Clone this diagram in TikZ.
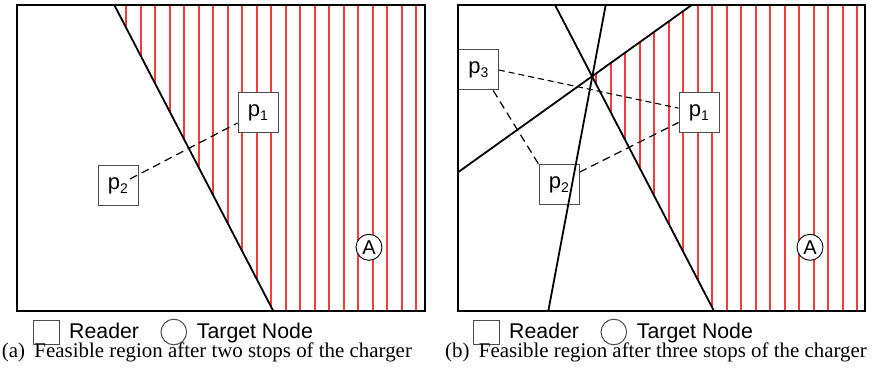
\documentclass[tikz,border=0pt]{standalone}
\usepackage{fontspec}
\setmainfont{Liberation Serif}
\newfontfamily\sff{Liberation Sans}
\newcommand\plab[1]{p\raisebox{-4pt}{\fontsize{14}{14}\selectfont #1}}
\definecolor{stripered}{RGB}{245,60,60}
\begin{document}
\begin{tikzpicture}[x=1pt,y=-1pt,
  frame/.style={line width=1.8pt},
  cut/.style={line width=1.8pt},
  stripe/.style={stripered, line width=2pt},
  reader/.style={draw=black!70, line width=1pt, fill=white, minimum size=40pt, inner sep=0pt, font=\sff\fontsize{22}{22}\selectfont},
  target/.style={draw=black, line width=0.9pt, fill=white, circle, minimum size=26pt, inner sep=0pt, font=\sff\fontsize{20}{20}\selectfont},
  legbox/.style={draw=black!70, line width=1pt, minimum width=26pt, minimum height=24pt, inner sep=0pt},
  legcirc/.style={draw=black!70, line width=1pt, circle, minimum size=25.6pt, inner sep=0pt},
  legtext/.style={anchor=base west, inner sep=0pt, font=\sff\fontsize{21.3}{21.3}\selectfont},
  captext/.style={anchor=base west, inner sep=0pt, font=\fontsize{20.9}{24}\selectfont},
  link/.style={dash pattern=on 8pt off 5pt, line width=1.2pt},
  linkfine/.style={dash pattern=on 6pt off 4pt, line width=1.1pt}]
\useasboundingbox (0,0) rectangle (875,385);

% ---------------- panel (a) ----------------
\coordinate (aTL) at (17,5);
\coordinate (aTR) at (425,5);
\coordinate (aBR) at (425,311);
\coordinate (aBL) at (17,311);
\coordinate (aL1) at (114.3,5);
\coordinate (aL2) at (273.3,311);
\begin{scope}
  \clip (aL1) -- (aTR) -- (aBR) -- (aL2) -- cycle;
  \foreach \k in {0,...,20} {
    \draw[stripe] ({round(126+14.5*\k)},5) -- ++(0,306);
  }
\end{scope}
\node[reader] (ap1) at (258,113) {\plab{1}};
\node[reader] (ap2) at (118,185.5) {\plab{2}};
\node[target] (aA) at (369,247.3) {A};
\coordinate (ap2s) at (130,179);
\draw[cut] (aL1) -- (aL2);
\draw[link] (ap2s) -- (ap1.206);
\draw[frame] (aTL) rectangle (aBR);

\node[legbox] (alb) at (46.3,332.3) {};
\node[legtext] (alr) at (69,338.7) {Reader};
\node[legcirc] (alc) at (173.8,332) {};
\node[legtext] (alt) at (196.7,338.7) {Target Node};
\node[captext] (acap) at (1.7,357) {(a)\hspace{0.45em}Feasible region after two stops of the charger};

% ---------------- panel (b) ----------------
\coordinate (bTL) at (458,5);
\coordinate (bTR) at (865,5);
\coordinate (bBR) at (865,311);
\coordinate (bBL) at (458,311);
\coordinate (bL1a) at (555,5);
\coordinate (bL1b) at (714,311);
\coordinate (bL2a) at (605.7,5);
\coordinate (bL2b) at (548.3,311);
\coordinate (bL3a) at (458,172.3);
\coordinate (bL3b) at (691.7,5);
\coordinate (bI) at (intersection of bL1a--bL1b and bL3a--bL3b);
\begin{scope}
  \clip (bI) -- (bL3b) -- (bTR) -- (bBR) -- (bL1b) -- cycle;
  \foreach \k in {0,...,20} {
    \draw[stripe] ({round(567+14.5*\k)},5) -- ++(0,306);
  }
\end{scope}
\node[reader] (bp3) at (478.3,70) {\plab{3}};
\node[reader] (bp1) at (699,112.5) {\plab{1}};
\node[reader] (bp2) at (559,184.5) {\plab{2}};
\node[target] (bA) at (810,247.3) {A};
\draw[cut] (bL1a) -- (bL1b);
\draw[cut] (bL2a) -- (bL2b);
\draw[cut] (bL3a) -- (bL3b);
\draw[linkfine] (bp3.east) -- (bp1.168);
\draw[link] (bp3.306) -- (bp2.north west);
\draw[link] (bp2.31) -- (bp1.206);
\draw[frame] (bTL) rectangle (bBR);

\node[legbox] (blb) at (486.3,332.3) {};
\node[legtext] (blr) at (509,338.7) {Reader};
\node[legcirc] (blc) at (613.8,332) {};
\node[legtext] (blt) at (636.7,338.7) {Target Node};
\node[captext] (bcap) at (445,357) {(b)\hspace{0.45em}Feasible region after three stops of the charger};
\end{tikzpicture}
\end{document}
